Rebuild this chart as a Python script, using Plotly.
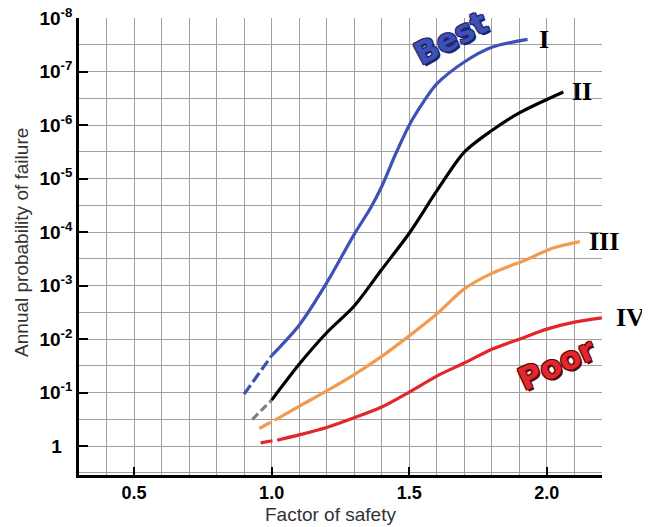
import math
import plotly.graph_objects as go

# ---- data (factor of safety vs annual probability of failure) ----
I_dash_x = [0.90, 1.00]
I_dash_p = [0.107, 0.0204]
I_x = [1.00, 1.10, 1.20, 1.30, 1.36, 1.40, 1.45, 1.50, 1.55, 1.60, 1.70, 1.80, 1.93]
I_p = [0.0204, 0.0055, 8.9e-4, 1.1e-4, 3.5e-5, 1.4e-5, 3.5e-6, 1.0e-6, 3.8e-7, 1.7e-7, 6.6e-8, 3.5e-8, 2.5e-8]

II_dash_x = [0.93, 1.00]
II_dash_p = [0.316, 0.138]
II_x = [1.00, 1.10, 1.20, 1.30, 1.40, 1.50, 1.60, 1.70, 1.80, 1.90, 2.06]
II_p = [0.138, 0.0295, 7.6e-3, 2.4e-3, 5.0e-4, 1.05e-4, 1.7e-5, 3.2e-6, 1.26e-6, 5.9e-7, 2.4e-7]

III_dash_x = [0.955, 0.998]
III_dash_p = [0.468, 0.355]
III_x = [1.01, 1.10, 1.20, 1.30, 1.40, 1.50, 1.60, 1.70, 1.80, 1.93, 2.02, 2.12]
III_p = [0.331, 0.18, 0.093, 0.046, 0.021, 8.7e-3, 3.4e-3, 1.15e-3, 5.9e-4, 3.2e-4, 2.0e-4, 1.5e-4]

IV_dash_x = [0.96, 1.005]
IV_dash_p = [0.871, 0.79]
IV_x = [1.02, 1.10, 1.20, 1.30, 1.40, 1.50, 1.60, 1.70, 1.80, 1.90, 2.00, 2.10, 2.20]
IV_p = [0.776, 0.617, 0.447, 0.295, 0.186, 0.098, 0.049, 0.028, 0.0155, 0.010, 0.0065, 0.0048, 0.0040]

x_tick_vals = [0.5, 1.0, 1.5, 2.0]
x_tick_text = ["0.5", "1.0", "1.5", "2.0"]
y_tick_vals = [1e-8, 1e-7, 1e-6, 1e-5, 1e-4, 1e-3, 1e-2, 1e-1, 1]
y_tick_text = ["10<sup>-8</sup>", "10<sup>-7</sup>", "10<sup>-6</sup>", "10<sup>-5</sup>",
               "10<sup>-4</sup>", "10<sup>-3</sup>", "10<sup>-2</sup>", "10<sup>-1</sup>", "1\u00a0\u00a0"]
curve_names = ["I", "II", "III", "IV"]

BLUE = "#3f51b5"
BLACK = "#000000"
GREY = "#808080"
ORANGE = "#f29b50"
RED = "#e3262b"
GRID = "#a0a0a0"

fig = go.Figure()

def add_line(x, y, color, dash="solid"):
    fig.add_trace(go.Scatter(x=x, y=y, mode="lines",
                             line=dict(color=color, width=3.2, dash=dash, shape="spline", smoothing=0.8),
                             showlegend=False, hoverinfo="skip", cliponaxis=False))

add_line(I_dash_x, I_dash_p, BLUE, "11px,4px")
add_line(I_x, I_p, BLUE)
add_line(II_dash_x, II_dash_p, GREY, "8px,4px")
add_line(II_x, II_p, BLACK)
add_line(III_dash_x, III_dash_p, ORANGE, "13px,4px")
add_line(III_x, III_p, ORANGE)
add_line(IV_dash_x, IV_dash_p, RED, "12px,4px")
add_line(IV_x, IV_p, RED)

# curve labels at curve ends
ends = [(I_x[-1], I_p[-1], 9), (II_x[-1], II_p[-1], 7), (III_x[-1], III_p[-1], 7), (IV_x[-1], IV_p[-1], 12)]
for name, (ex, ep, sh) in zip(curve_names, ends):
    fig.add_annotation(x=ex, y=math.log10(ep), text=name, showarrow=False, xanchor="left", yanchor="middle",
                       xshift=sh, yshift=0,
                       font=dict(family="Liberation Serif", size=26, color="black", weight="bold"))

def fancy_text(x, y, text, color, dark, angle):
    for dx, dy in [(-1, -1), (1, -1), (-1, 1), (1, 1), (2, -2)]:
        fig.add_annotation(x=x, y=y, text=text, showarrow=False, textangle=angle, xshift=dx, yshift=dy,
                           font=dict(family="DejaVu Sans", size=31, color=dark, weight="bold"))
    fig.add_annotation(x=x, y=y, text=text, showarrow=False, textangle=angle,
                       font=dict(family="DejaVu Sans", size=31, color=color, weight="bold"))

fancy_text(1.65, -7.62, "Best", BLUE, "#1c2570", -28)
fancy_text(2.035, -1.54, "Poor", RED, "#5a0a0a", -25)

# axis titles
fig.add_annotation(xref="paper", yref="paper", x=0.48, y=-0.0875, text="Factor of safety", showarrow=False,
                   xanchor="center", yanchor="middle",
                   font=dict(family="Liberation Sans", size=19, color="#333333"))
fig.add_annotation(xref="paper", yref="paper", x=-0.109, y=0.51, text="Annual probability of failure",
                   showarrow=False, textangle=-90, xanchor="center", yanchor="middle",
                   font=dict(family="Liberation Sans", size=19, color="#333333"))

minor_x = [round(0.3 + 0.1 * i, 1) for i in range(20)]
minor_y = [10 ** (k + 0.5) for k in range(-8, 1)]

# the page adds an 8px body margin, so the figure is sized/offset to compensate
fig.update_layout(
    width=642, height=519,
    margin=dict(l=71, r=48, t=10, b=52),
    paper_bgcolor="white", plot_bgcolor="white",
    xaxis=dict(range=[0.3, 2.2005], tickmode="array", tickvals=x_tick_vals, ticktext=x_tick_text,
               automargin=False,
               showgrid=True, gridcolor=GRID, gridwidth=1.3,
               ticks="inside", ticklen=8, tickwidth=2, tickcolor="black",
               showline=True, linecolor="black", linewidth=2.5, zeroline=False,
               tickfont=dict(family="Liberation Sans", size=18, color="black", weight="bold"),
               minor=dict(tickmode="array", tickvals=minor_x, showgrid=True, gridcolor=GRID, gridwidth=1.3, ticks="")),
    yaxis=dict(type="log", range=[0.54, -8.003], tickmode="array", tickvals=y_tick_vals, ticktext=y_tick_text,
               automargin=False, ticklabeloverflow="allow",
               showgrid=True, gridcolor=GRID, gridwidth=1.3,
               ticks="inside", ticklen=9, tickwidth=2, tickcolor="black",
               showline=True, linecolor="black", linewidth=2.5, zeroline=False,
               tickfont=dict(family="Liberation Sans", size=19, color="black", weight="bold"),
               minor=dict(tickmode="array", tickvals=minor_y, showgrid=True, gridcolor=GRID, gridwidth=1.3, ticks="")),
)

fig.write_html("out.html")
